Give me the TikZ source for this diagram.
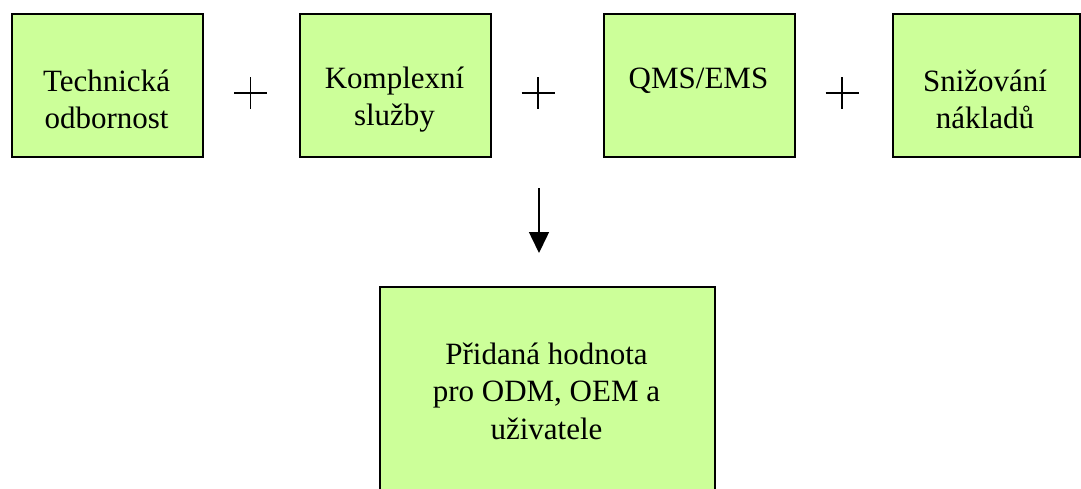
\documentclass[tikz,border=0pt]{standalone}
\usepackage{fontspec}
\setmainfont{Liberation Serif}
\usetikzlibrary{arrows.meta}
\definecolor{boxgreen}{RGB}{204,255,153}
\tikzset{
  card/.style={draw=black, fill=boxgreen, line width=2pt, inner sep=0pt, anchor=north west},
  cardtext/.style={align=center, inner sep=0pt, font=\fontsize{31pt}{37.5pt}\selectfont},
  plusbar/.style={line width=1.4pt},
}
\begin{document}
\begin{tikzpicture}[x=1pt, y=-1pt]
  \useasboundingbox (0,0) rectangle (1081,488);
  \clip (0,0) rectangle (1081,488);

  % top row of four cards
  \node[card, minimum width=191pt, minimum height=143pt] (tech) at (11,13) {};
  \node[card, minimum width=191pt, minimum height=143pt] (serv) at (299,13) {};
  \node[card, minimum width=191pt, minimum height=143pt] (qms)  at (603,13) {};
  \node[card, minimum width=187pt, minimum height=143pt] (cost) at (892,13) {};

  \node[cardtext] (techT) at (106.5,99.5) {Technická\\odbornost};
  \node[cardtext] (servT) at (394.5,99.5) {Komplexní\\služby};
  \node[cardtext] (qmsT)  at (698.5,81)   {QMS/EMS};
  \node[cardtext] (costT) at (985,99.5)   {Snižování\\nákladů};

  % plus signs between the cards
  \foreach \px/\nm in {250.5/pa, 538/pb, 842/pc}{
    \coordinate (\nm) at (\px,93);
    \draw[plusbar] ([xshift=-16.5pt]\nm) -- ([xshift=16.5pt]\nm);
    \draw[plusbar] ([yshift=16pt]\nm) -- ([yshift=-16pt]\nm);
  }

  % result card, running off the lower edge
  \node[card, minimum width=335pt, minimum height=215pt] (value) at (379,286) {};
  \node[cardtext] (valueT) at (546.5,391) {Přidaná hodnota\\pro ODM, OEM a\\uživatele};

  % arrow towards the result
  \coordinate (arrtop) at (539,188);
  \coordinate (arrtip) at (539,253);
  \draw[line width=1.5pt, -{Triangle[width=20pt,length=21pt]}] (arrtop) -- (arrtip);
\end{tikzpicture}
\end{document}
